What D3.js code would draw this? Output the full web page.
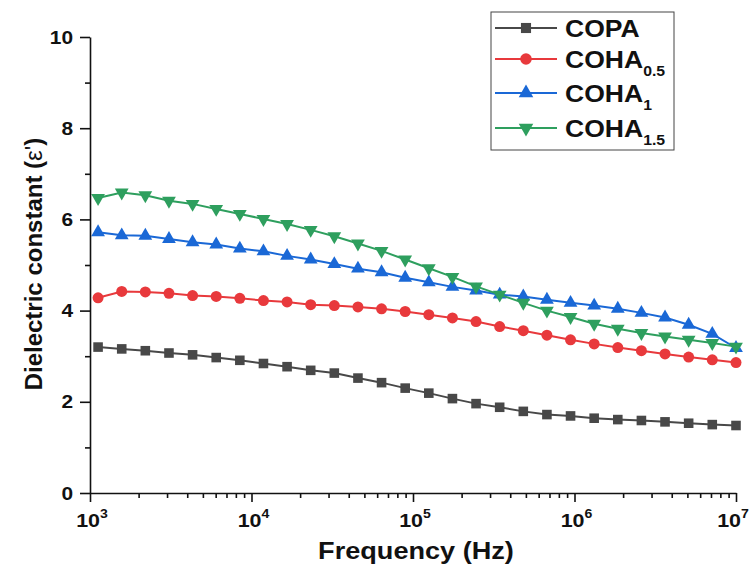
<!DOCTYPE html>
<html>
<head>
<meta charset="utf-8">
<script src="https://cdn.jsdelivr.net/npm/d3@7"></script>
<style>
  body { margin:0; background:#fff; }
  svg text { font-family: Arial, "Liberation Sans", sans-serif; font-weight:bold; fill:#111; }
</style>
</head>
<body>
<svg id="chart"></svg>
<script>

// frequencies (Hz) of the measured points
var freqs = [1122, 1572, 2201, 3083, 4317, 6046, 8467, 11858, 16607, 23257,
             32570, 45612, 63877, 89457, 125280, 175450, 245710, 344110, 481910, 674890,
             945150, 1323600, 1853700, 2596000, 3635600, 5091500, 7130400, 10000000];

var copa   = [3.20, 3.16, 3.12, 3.07, 3.03, 2.97, 2.91, 2.84, 2.77, 2.69,
              2.63, 2.52, 2.42, 2.30, 2.19, 2.07, 1.96, 1.88, 1.79, 1.72,
              1.69, 1.64, 1.61, 1.59, 1.56, 1.53, 1.50, 1.48];
var coha05 = [4.28, 4.42, 4.41, 4.38, 4.33, 4.31, 4.27, 4.22, 4.19, 4.13,
              4.11, 4.08, 4.04, 3.98, 3.91, 3.84, 3.76, 3.65, 3.56, 3.46,
              3.36, 3.27, 3.19, 3.12, 3.05, 2.98, 2.92, 2.86];
var coha1  = [5.72, 5.65, 5.64, 5.57, 5.50, 5.45, 5.36, 5.30, 5.20, 5.12,
              5.02, 4.92, 4.84, 4.72, 4.62, 4.52, 4.44, 4.35, 4.31, 4.24,
              4.17, 4.11, 4.04, 3.95, 3.85, 3.69, 3.49, 3.18];
var coha15 = [6.47, 6.59, 6.53, 6.41, 6.34, 6.23, 6.12, 6.01, 5.90, 5.77,
              5.63, 5.47, 5.31, 5.12, 4.93, 4.74, 4.53, 4.35, 4.17, 4.00,
              3.86, 3.71, 3.60, 3.51, 3.43, 3.36, 3.29, 3.21];

var seriesNames = ["COPA", "COHA", "COHA", "COHA"];
var seriesSubs  = ["", "0.5", "1", "1.5"];
var seriesData  = [copa, coha05, coha1, coha15];

var xMajor = [1e3, 1e4, 1e5, 1e6, 1e7];
var xLabelExp = ["3", "4", "5", "6", "7"];
var yMajor = [0, 2, 4, 6, 8, 10];
var yMinor = [1, 3, 5, 7, 9];

var colors  = ["#484848", "#e8393c", "#1a68d6", "#2e9f5e"];
var symbols = [d3.symbolSquare, d3.symbolCircle, d3.symbolTriangle, d3.symbolTriangle];
var symSize = [92, 95, 82, 82];
var symRot  = [0, 0, 0, 180];

var screen = {width:752, height:570};
var margins = {top:37, bottom:77, left:90, right:16};
var graph = {
    width: screen.width - margins.left - margins.right,
    height: screen.height - margins.top - margins.bottom
};
var sx = 1.13;   // text in the figure is a bit wide

var xScale = d3.scaleLog()
    .domain([1e3, 1e7])
    .range([0, graph.width]);

var yScale = d3.scaleLinear()
    .domain([0, 10])
    .range([graph.height, 0]);

var hText = function(g, x, y, anchor, size)
{
    return g.append("text")
        .attr("transform", "translate(" + x + "," + y + ") scale(" + sx + ",1)")
        .attr("text-anchor", anchor)
        .style("font-size", size + "px");
}

var createAxes = function(svg)
{
    var axes = svg.append("g")
        .attr("transform", "translate(" + margins.left + "," + margins.top + ")");

    // minor x ticks 2..9 in each decade
    var xMinor = [];
    xMajor.slice(0, -1).forEach(function(d) {
        for (var k = 2; k < 10; k++) xMinor.push(d * k);
    });

    var xAxisMinor = axes.append("g")
        .attr("transform", "translate(0," + graph.height + ")")
        .call(d3.axisBottom(xScale).tickValues(xMinor).tickSize(5).tickFormat(""));
    xAxisMinor.select(".domain").remove();

    axes.append("g")
        .attr("transform", "translate(0," + graph.height + ")")
        .call(d3.axisBottom(xScale).tickValues(xMajor).tickSizeInner(9).tickSizeOuter(0).tickFormat(""));

    var yAxisMinor = axes.append("g")
        .call(d3.axisLeft(yScale).tickValues(yMinor).tickSize(5).tickFormat(""));
    yAxisMinor.select(".domain").remove();

    axes.append("g")
        .call(d3.axisLeft(yScale).tickValues(yMajor).tickSizeInner(10).tickSizeOuter(0).tickFormat(""));

    axes.selectAll(".domain, .tick line")
        .attr("stroke", "#111")
        .attr("stroke-width", 1.6);

    // x labels 10^n, last one kept inside the page
    var maxX = screen.width - margins.left - 19;
    xMajor.forEach(function(d, i) {
        var t = hText(axes, Math.min(xScale(d) + 2, maxX), graph.height + 34, "middle", 19);
        t.append("tspan").text("10");
        t.append("tspan").attr("dy", -9).style("font-size", "12.5px").text(xLabelExp[i]);
    });

    // y labels
    yMajor.forEach(function(d) {
        hText(axes, -17, yScale(d) + 6.5, "end", 18.5).text(d);
    });

    // axis titles
    hText(svg, margins.left + graph.width / 2 + 3, 559, "middle", 24).text("Frequency (Hz)");

    var yt = svg.append("text")
        .attr("transform", "translate(41.5,264) rotate(-90)")
        .attr("text-anchor", "middle")
        .style("font-size", "24px");
    yt.append("tspan").text("Dielectric constant (");
    yt.append("tspan").style("font-weight", "normal").text("\u03b5'");
    yt.append("tspan").text(")");
}

var drawLines = function(svg)
{
    var g = svg.append("g")
        .attr("transform", "translate(" + margins.left + "," + margins.top + ")");

    var line = d3.line()
        .x(function(d, i) { return xScale(freqs[i]); })
        .y(function(d) { return yScale(d); });

    var groups = g.selectAll(".series")
        .data(seriesData)
        .enter()
        .append("g")
        .attr("class", "series");

    groups.append("path")
        .attr("d", function(d) { return line(d); })
        .attr("fill", "none")
        .attr("stroke", function(d, i) { return colors[i]; })
        .attr("stroke-width", 2);

    groups.each(function(vals, s) {
        d3.select(this).selectAll(".pt")
            .data(vals)
            .enter()
            .append("path")
            .attr("class", "pt")
            .attr("d", d3.symbol().type(symbols[s]).size(symSize[s]))
            .attr("transform", function(d, i) {
                return "translate(" + xScale(freqs[i]) + "," + yScale(d) + ") rotate(" + symRot[s] + ")";
            })
            .attr("fill", colors[s]);
    });
}

var drawLegend = function(svg)
{
    var rowY = [28, 59, 93, 128];
    var lg = svg.append("g");

    lg.append("rect")
        .attr("x", 491).attr("y", 12)
        .attr("width", 183).attr("height", 138)
        .attr("fill", "#fff")
        .attr("stroke", "#444")
        .attr("stroke-width", 1);

    seriesNames.forEach(function(name, i) {
        lg.append("line")
            .attr("x1", 495).attr("x2", 557)
            .attr("y1", rowY[i]).attr("y2", rowY[i])
            .attr("stroke", colors[i])
            .attr("stroke-width", 2);
        lg.append("path")
            .attr("d", d3.symbol().type(symbols[i]).size(symSize[i] + 10))
            .attr("transform", "translate(526," + rowY[i] + ") rotate(" + symRot[i] + ")")
            .attr("fill", colors[i]);
        var t = hText(lg, 565, rowY[i] + 8.5, "start", 23.5);
        t.append("tspan").text(name);
        if (seriesSubs[i] != "")
            t.append("tspan").attr("dy", 8).style("font-size", "14px").text(seriesSubs[i]);
    });
}

var svg = d3.select("#chart")
    .attr("width", screen.width)
    .attr("height", screen.height);

drawLines(svg);
createAxes(svg);
drawLegend(svg);

</script>
</body>
</html>
